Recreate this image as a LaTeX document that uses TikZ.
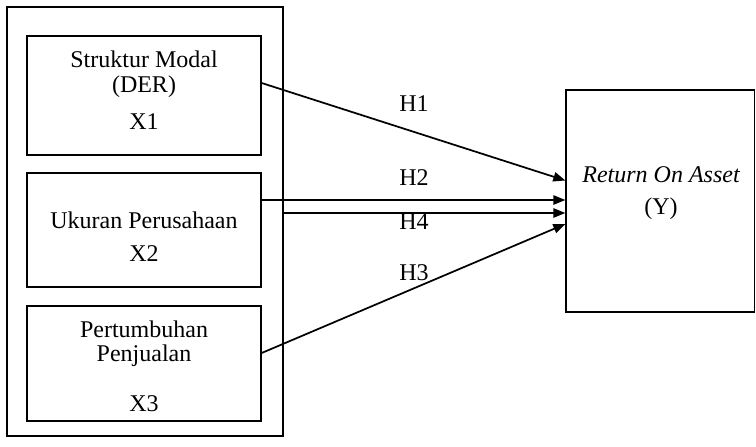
\documentclass[tikz,border=0pt]{standalone}
\usepackage{fontspec}
\setmainfont{Liberation Serif}
\usetikzlibrary{arrows.meta,fit}
\tikzset{
    box/.style={draw, line width=1pt, inner sep=0pt},
    lbl/.style={font=\fontsize{18}{21}\selectfont, inner sep=0pt},
    arr/.style={line width=1.3pt, -{Triangle[length=9pt,width=7pt]}}
}

\begin{document}
\begin{tikzpicture}[x=0.75pt, y=-0.75pt]
	\useasboundingbox (0,0) rectangle (756,446);
	\node (outer) [box, fit={(7,7) (283,436)}] {};
	\node (x1) [box, fit={(27,36) (261,155)}] {};
	\node (x2) [box, fit={(27,173) (261,287)}] {};
	\node (x3) [box, fit={(27,306) (261,421)}] {};
	\node (roa) [box, fit={(566,90) (754.5,312)}] {};
	
	\node (t1a) [lbl] at (144,59) {Struktur Modal};
	\node (t1b) [lbl] at (144,87) {(DER)};
	\node (t1c) [lbl] at (144,122) {X1};
	\node (t2a) [lbl] at (144,220) {Ukuran Perusahaan};
	\node (t2b) [lbl] at (144,254) {X2};
	\node (t3a) [lbl] at (144,329) {Pertumbuhan};
	\node (t3b) [lbl] at (144,356) {Penjualan};
	\node (t3c) [lbl] at (144,404) {X3};
	\node (ya) [lbl] at (661,175) {\itshape Return On Asset};
	\node (yb) [lbl] at (661,209) {(Y)};
	
	\node (h1) [lbl] at (414,104) {H1};
	\node (h2) [lbl] at (414,178) {H2};
	\node (h4) [lbl] at (414,222) {H4};
	\node (h3) [lbl] at (414,273) {H3};
	
	\draw[arr] (x1.east |- 0,83) -- (roa.west |- 0,180.5);
	\draw[arr] (x2.east |- 0,200) -- (roa.west |- 0,200);
	\draw[arr] (outer.east |- 0,213) -- (roa.west |- 0,213);
	\draw[arr] (x3.east |- 0,353) -- (roa.west |- 0,224);
\end{tikzpicture}
\end{document}
